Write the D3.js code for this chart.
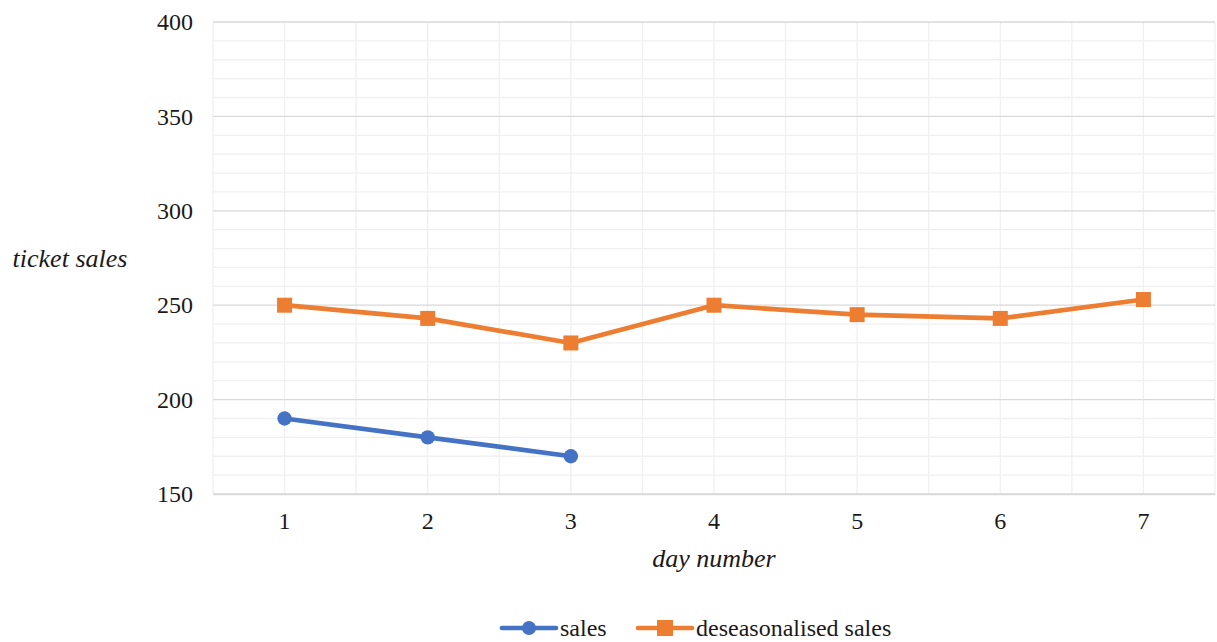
<!DOCTYPE html>
<html>
<head>
<meta charset="utf-8">
<script src="https://cdn.jsdelivr.net/npm/d3@7"></script>
</head>
<body style="margin:0;background:#fff">
<svg id="chart" width="1217" height="642"></svg>
<script>
// Day numbers along the x axis
const days = [1, 2, 3, 4, 5, 6, 7];
// Ticket sales observed (first three days)
const sales = [190, 180, 170];
// Deseasonalised ticket sales for each day
const deseasonalised = [250, 243, 230, 250, 245, 243, 253];
// Value-axis tick labels
const yTicks = [150, 200, 250, 300, 350, 400];

const seriesNames = ["sales", "deseasonalised sales"];
const colors = ["#4472c4", "#ed7d31"];
const FONT = "'Liberation Serif'";

const svg = d3.select("#chart");
const plot = { left: 213, right: 1215, top: 22, bottom: 494 };

const x = d3.scaleBand().domain(days).range([plot.left, plot.right]);
const y = d3.scaleLinear().domain([150, 400]).range([plot.bottom, plot.top]);
const cx = d => x(d) + x.bandwidth() / 2;

const g = svg.append("g");

// minor horizontal gridlines every 10
g.append("g").selectAll("line")
  .data(d3.range(150, 401, 10).filter(v => v % 50 !== 0))
  .join("line")
  .attr("x1", plot.left).attr("x2", plot.right)
  .attr("y1", d => y(d)).attr("y2", d => y(d))
  .attr("stroke", "#f0f0f0").attr("stroke-width", 1.3);

// vertical gridlines at category edges and centres
const vLines = [];
days.forEach(d => { vLines.push(x(d)); vLines.push(cx(d)); });
vLines.push(plot.right);
g.append("g").selectAll("line")
  .data(vLines)
  .join("line")
  .attr("x1", d => d).attr("x2", d => d)
  .attr("y1", plot.top).attr("y2", plot.bottom)
  .attr("stroke", "#f0f0f0").attr("stroke-width", 1.3);

// major horizontal gridlines
g.append("g").selectAll("line")
  .data(yTicks)
  .join("line")
  .attr("x1", plot.left).attr("x2", plot.right)
  .attr("y1", d => y(d)).attr("y2", d => y(d))
  .attr("stroke", "#d9d9d9").attr("stroke-width", 1.3);

// y axis labels
const yAxis = d3.axisLeft(y).tickValues(yTicks).tickSize(0).tickPadding(20);
g.append("g")
  .attr("transform", `translate(${plot.left},0)`)
  .call(yAxis)
  .attr("font-family", null).attr("font-size", null)
  .call(s => s.select(".domain").remove())
  .call(s => s.selectAll("text")
    .style("font-family", FONT).style("font-size", "24px").attr("fill", "#1a1a1a"));

// x axis labels
const xAxis = d3.axisBottom(x).tickSize(0).tickPadding(18);
g.append("g")
  .attr("transform", `translate(0,${plot.bottom})`)
  .call(xAxis)
  .attr("font-family", null).attr("font-size", null)
  .call(s => s.select(".domain").attr("stroke", "#d9d9d9").attr("stroke-width", 1.3))
  .call(s => s.selectAll("text")
    .style("font-family", FONT).style("font-size", "24px").attr("fill", "#1a1a1a"));

// axis titles
svg.append("text")
  .attr("x", 70).attr("y", 267)
  .attr("text-anchor", "middle")
  .style("font-family", FONT).style("font-style", "italic").style("font-size", "26px")
  .attr("fill", "#1a1a1a")
  .text("ticket sales");
svg.append("text")
  .attr("x", (plot.left + plot.right) / 2).attr("y", 567)
  .attr("text-anchor", "middle")
  .style("font-family", FONT).style("font-style", "italic").style("font-size", "26px")
  .attr("fill", "#1a1a1a")
  .text("day number");

const line = d3.line().x(d => cx(d.day)).y(d => y(d.value));

// deseasonalised series
const dsData = deseasonalised.map((v, i) => ({ day: days[i], value: v }));
svg.append("path").datum(dsData)
  .attr("d", line).attr("fill", "none")
  .attr("stroke", colors[1]).attr("stroke-width", 4.7).attr("stroke-linejoin", "round");
svg.append("g").selectAll("rect").data(dsData).join("rect")
  .attr("x", d => cx(d.day) - 7.5).attr("y", d => y(d.value) - 7.5)
  .attr("width", 15).attr("height", 15).attr("fill", colors[1]);

// sales series
const sData = sales.map((v, i) => ({ day: days[i], value: v }));
svg.append("path").datum(sData)
  .attr("d", line).attr("fill", "none")
  .attr("stroke", colors[0]).attr("stroke-width", 4.7).attr("stroke-linejoin", "round");
svg.append("g").selectAll("circle").data(sData).join("circle")
  .attr("cx", d => cx(d.day)).attr("cy", d => y(d.value))
  .attr("r", 7.2).attr("fill", colors[0]);

// legend
const legend = svg.append("g").attr("transform", "translate(0,628)");
const items = [
  { name: seriesNames[0], color: colors[0], shape: "circle", x: 502 },
  { name: seriesNames[1], color: colors[1], shape: "rect", x: 638 }
];
items.forEach(it => {
  const lg = legend.append("g").attr("transform", `translate(${it.x},0)`);
  lg.append("line").attr("x1", 0).attr("x2", 54).attr("y1", 0).attr("y2", 0)
    .attr("stroke", it.color).attr("stroke-width", 4.7).attr("stroke-linecap", "round");
  if (it.shape === "circle") {
    lg.append("circle").attr("cx", 27).attr("cy", 0).attr("r", 7).attr("fill", it.color);
  } else {
    lg.append("rect").attr("x", 19).attr("y", -8).attr("width", 16).attr("height", 16).attr("fill", it.color);
  }
  lg.append("text").attr("x", 58).attr("y", 8)
    .style("font-family", FONT).style("font-size", "24px")
    .attr("fill", "#1a1a1a").text(it.name);
});
</script>
</body>
</html>
